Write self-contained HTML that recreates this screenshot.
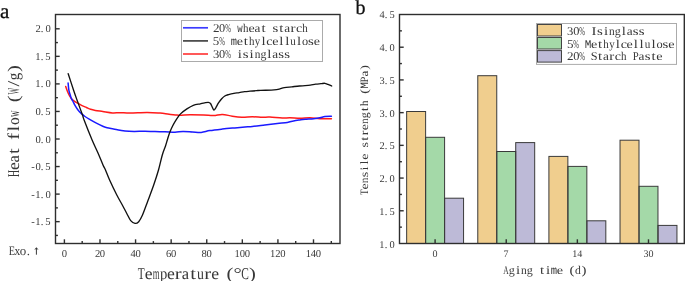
<!DOCTYPE html>
<html><head><meta charset="utf-8"><title>chart</title>
<style>html,body{margin:0;padding:0;background:#fff;width:685px;height:281px;overflow:hidden}svg{display:block;will-change:transform}text{font-kerning:none;text-rendering:geometricPrecision}</style>
</head><body>
<svg width="685" height="281" viewBox="0 0 685 281">
<rect width="685" height="281" fill="#fff"/>
<g><rect x="406.65" y="111.50" width="18.97" height="132.00" fill="#F0CE8E"/><rect x="425.62" y="137.30" width="18.97" height="106.20" fill="#A4D9A8"/><rect x="444.59" y="198.20" width="18.97" height="45.30" fill="#BDBAD7"/><rect x="477.78" y="75.70" width="18.97" height="167.80" fill="#F0CE8E"/><rect x="496.75" y="151.50" width="18.97" height="92.00" fill="#A4D9A8"/><rect x="515.72" y="142.60" width="18.97" height="100.90" fill="#BDBAD7"/><rect x="548.90" y="156.40" width="18.97" height="87.10" fill="#F0CE8E"/><rect x="567.88" y="166.40" width="18.97" height="77.10" fill="#A4D9A8"/><rect x="586.85" y="220.80" width="18.97" height="22.70" fill="#BDBAD7"/><rect x="620.03" y="140.20" width="18.97" height="103.30" fill="#F0CE8E"/><rect x="639.00" y="186.30" width="18.97" height="57.20" fill="#A4D9A8"/><rect x="657.98" y="225.40" width="18.97" height="18.10" fill="#BDBAD7"/></g>
<g fill="none" stroke="#3a3a3a" stroke-width="1"><rect x="406.65" y="111.50" width="18.97" height="132.00"/><rect x="425.62" y="137.30" width="18.97" height="106.20"/><rect x="444.59" y="198.20" width="18.97" height="45.30"/><rect x="477.78" y="75.70" width="18.97" height="167.80"/><rect x="496.75" y="151.50" width="18.97" height="92.00"/><rect x="515.72" y="142.60" width="18.97" height="100.90"/><rect x="548.90" y="156.40" width="18.97" height="87.10"/><rect x="567.88" y="166.40" width="18.97" height="77.10"/><rect x="586.85" y="220.80" width="18.97" height="22.70"/><rect x="620.03" y="140.20" width="18.97" height="103.30"/><rect x="639.00" y="186.30" width="18.97" height="57.20"/><rect x="657.98" y="225.40" width="18.97" height="18.10"/></g>
<g fill="none" stroke-linejoin="round" stroke-linecap="round" stroke-width="1.5">
<path d="M65.70,86.50 C66.00,87.33 66.85,89.92 67.50,91.50 C68.15,93.08 68.90,94.77 69.60,96.00 C70.30,97.23 71.03,98.13 71.70,98.90 C72.37,99.67 72.70,99.95 73.60,100.60 C74.50,101.25 75.70,101.97 77.10,102.80 C78.50,103.63 80.45,104.82 82.00,105.60 C83.55,106.38 84.97,106.88 86.40,107.50 C87.83,108.12 89.12,108.82 90.60,109.30 C92.08,109.78 93.27,110.03 95.30,110.40 C97.33,110.77 99.95,111.08 102.80,111.50 C105.65,111.92 109.53,112.70 112.40,112.90 C115.27,113.10 117.07,112.67 120.00,112.70 C122.93,112.73 125.50,113.12 130.00,113.10 C134.50,113.08 142.00,112.60 147.00,112.60 C152.00,112.60 157.13,112.95 160.00,113.10 C162.87,113.25 161.37,113.17 164.20,113.50 C167.03,113.83 172.70,114.90 177.00,115.10 C181.30,115.30 185.55,114.72 190.00,114.70 C194.45,114.68 199.77,114.85 203.70,115.00 C207.63,115.15 210.50,115.70 213.60,115.60 C216.70,115.50 219.18,114.30 222.30,114.40 C225.42,114.50 229.03,115.73 232.30,116.20 C235.57,116.67 238.55,117.10 241.90,117.20 C245.25,117.30 248.98,116.80 252.40,116.80 C255.82,116.80 259.48,117.15 262.40,117.20 C265.32,117.25 266.58,116.95 269.90,117.10 C273.22,117.25 278.98,118.00 282.30,118.10 C285.62,118.20 286.85,117.67 289.80,117.70 C292.75,117.73 296.63,118.30 300.00,118.30 C303.37,118.30 306.68,117.63 310.00,117.70 C313.32,117.77 316.33,118.53 319.90,118.70 C323.47,118.87 329.48,118.70 331.40,118.70" stroke="#ff1a1a"/>
<path d="M68.10,83.00 C68.23,84.22 68.53,88.27 68.90,90.30 C69.27,92.33 69.90,93.85 70.30,95.20 C70.70,96.55 70.88,97.43 71.30,98.40 C71.72,99.37 72.18,99.83 72.80,101.00 C73.42,102.17 74.17,103.95 75.00,105.40 C75.83,106.85 76.73,108.33 77.80,109.70 C78.87,111.07 80.20,112.47 81.40,113.60 C82.60,114.73 83.70,115.57 85.00,116.50 C86.30,117.43 87.30,118.08 89.20,119.20 C91.10,120.32 94.13,122.03 96.40,123.20 C98.67,124.37 101.02,125.43 102.80,126.20 C104.58,126.97 105.32,127.33 107.10,127.80 C108.88,128.27 111.35,128.58 113.50,129.00 C115.65,129.42 118.08,129.95 120.00,130.30 C121.92,130.65 122.63,130.92 125.00,131.10 C127.37,131.28 130.88,131.38 134.20,131.40 C137.52,131.42 141.43,131.17 144.90,131.20 C148.37,131.23 151.65,131.52 155.00,131.60 C158.35,131.68 161.67,131.60 165.00,131.70 C168.33,131.80 172.00,132.25 175.00,132.20 C178.00,132.15 180.08,131.45 183.00,131.40 C185.92,131.35 189.47,131.73 192.50,131.90 C195.53,132.07 198.30,132.62 201.20,132.40 C204.10,132.18 206.38,131.15 209.90,130.60 C213.42,130.05 218.15,129.55 222.30,129.10 C226.45,128.65 231.02,128.25 234.80,127.90 C238.58,127.55 242.07,127.25 245.00,127.00 C247.93,126.75 249.08,126.75 252.40,126.40 C255.72,126.05 260.75,125.40 264.90,124.90 C269.05,124.40 273.57,123.82 277.30,123.40 C281.03,122.98 284.60,122.82 287.30,122.40 C290.00,121.98 291.38,121.32 293.50,120.90 C295.62,120.48 298.08,120.17 300.00,119.90 C301.92,119.63 302.72,119.50 305.00,119.30 C307.28,119.10 311.22,118.95 313.70,118.70 C316.18,118.45 318.03,118.17 319.90,117.80 C321.77,117.43 322.98,116.77 324.90,116.50 C326.82,116.23 330.32,116.25 331.40,116.20" stroke="#1a1aff"/>
<path d="M68.20,73.70 C69.08,76.42 72.03,85.62 73.50,90.00 C74.97,94.38 75.50,95.83 77.00,100.00 C78.50,104.17 81.32,111.67 82.50,115.00 C83.68,118.33 82.50,115.83 84.10,120.00 C85.70,124.17 89.78,134.50 92.10,140.00 C94.42,145.50 96.18,148.83 98.00,153.00 C99.82,157.17 101.75,162.17 103.00,165.00 C104.25,167.83 104.40,167.50 105.50,170.00 C106.60,172.50 107.72,175.83 109.60,180.00 C111.48,184.17 114.62,190.72 116.80,195.00 C118.98,199.28 121.02,202.58 122.70,205.70 C124.38,208.82 125.57,211.22 126.90,213.70 C128.23,216.18 129.35,218.98 130.70,220.60 C132.05,222.22 133.67,223.22 135.00,223.40 C136.33,223.58 137.45,223.10 138.70,221.70 C139.95,220.30 140.98,218.45 142.50,215.00 C144.02,211.55 145.93,206.00 147.80,201.00 C149.67,196.00 151.92,190.17 153.70,185.00 C155.48,179.83 157.07,175.00 158.50,170.00 C159.93,165.00 161.13,159.00 162.30,155.00 C163.47,151.00 164.62,148.67 165.50,146.00 C166.38,143.33 166.87,141.32 167.60,139.00 C168.33,136.68 169.07,134.27 169.90,132.10 C170.73,129.93 171.62,127.97 172.60,126.00 C173.58,124.03 174.48,122.32 175.80,120.30 C177.12,118.28 178.65,115.80 180.50,113.90 C182.35,112.00 184.77,110.33 186.90,108.90 C189.03,107.47 191.07,106.15 193.30,105.30 C195.53,104.45 198.42,104.20 200.30,103.80 C202.18,103.40 203.27,103.13 204.60,102.90 C205.93,102.67 207.32,102.30 208.30,102.40 C209.28,102.50 209.87,102.78 210.50,103.50 C211.13,104.22 211.53,105.60 212.10,106.70 C212.67,107.80 213.28,109.92 213.90,110.10 C214.52,110.28 215.03,109.00 215.80,107.80 C216.57,106.60 217.52,104.42 218.50,102.90 C219.48,101.38 220.65,99.85 221.70,98.70 C222.75,97.55 223.67,96.68 224.80,96.00 C225.93,95.32 226.98,95.05 228.50,94.60 C230.02,94.15 232.12,93.63 233.90,93.30 C235.68,92.97 237.42,92.87 239.20,92.60 C240.98,92.33 242.80,91.93 244.60,91.70 C246.40,91.47 248.03,91.37 250.00,91.20 C251.97,91.03 254.62,90.85 256.40,90.70 C258.18,90.55 258.20,90.38 260.70,90.30 C263.20,90.22 268.73,90.30 271.40,90.20 C274.07,90.10 275.27,89.92 276.70,89.70 C278.13,89.48 278.72,89.25 280.00,88.90 C281.28,88.55 282.42,87.95 284.40,87.60 C286.38,87.25 289.40,87.07 291.90,86.80 C294.40,86.53 297.22,86.18 299.40,86.00 C301.58,85.82 303.18,85.83 305.00,85.70 C306.82,85.57 308.52,85.45 310.30,85.20 C312.08,84.95 313.92,84.45 315.70,84.20 C317.48,83.95 319.48,83.85 321.00,83.70 C322.52,83.55 323.63,83.18 324.80,83.30 C325.97,83.42 326.85,83.95 328.00,84.40 C329.15,84.85 331.08,85.73 331.70,86.00" stroke="#111" stroke-width="1.35"/>
</g>
<g stroke="#2e2e2e" stroke-width="1.4" fill="none">
<rect x="55.5" y="14.5" width="284.50" height="229.00"/>
<rect x="399.5" y="14.5" width="284.80" height="229.00"/>
<line x1="64.40" y1="243.50" x2="64.40" y2="239.30"/>
<line x1="99.99" y1="243.50" x2="99.99" y2="239.30"/>
<line x1="135.57" y1="243.50" x2="135.57" y2="239.30"/>
<line x1="171.16" y1="243.50" x2="171.16" y2="239.30"/>
<line x1="206.74" y1="243.50" x2="206.74" y2="239.30"/>
<line x1="242.33" y1="243.50" x2="242.33" y2="239.30"/>
<line x1="277.92" y1="243.50" x2="277.92" y2="239.30"/>
<line x1="313.50" y1="243.50" x2="313.50" y2="239.30"/>
<line x1="82.19" y1="243.50" x2="82.19" y2="241.10"/>
<line x1="117.78" y1="243.50" x2="117.78" y2="241.10"/>
<line x1="153.37" y1="243.50" x2="153.37" y2="241.10"/>
<line x1="188.95" y1="243.50" x2="188.95" y2="241.10"/>
<line x1="224.54" y1="243.50" x2="224.54" y2="241.10"/>
<line x1="260.12" y1="243.50" x2="260.12" y2="241.10"/>
<line x1="295.71" y1="243.50" x2="295.71" y2="241.10"/>
<line x1="331.30" y1="243.50" x2="331.30" y2="241.10"/>
<line x1="55.50" y1="221.65" x2="59.70" y2="221.65"/>
<line x1="55.50" y1="194.10" x2="59.70" y2="194.10"/>
<line x1="55.50" y1="166.55" x2="59.70" y2="166.55"/>
<line x1="55.50" y1="139.00" x2="59.70" y2="139.00"/>
<line x1="55.50" y1="111.45" x2="59.70" y2="111.45"/>
<line x1="55.50" y1="83.90" x2="59.70" y2="83.90"/>
<line x1="55.50" y1="56.35" x2="59.70" y2="56.35"/>
<line x1="55.50" y1="28.80" x2="59.70" y2="28.80"/>
<line x1="55.50" y1="235.43" x2="57.90" y2="235.43"/>
<line x1="55.50" y1="207.88" x2="57.90" y2="207.88"/>
<line x1="55.50" y1="180.32" x2="57.90" y2="180.32"/>
<line x1="55.50" y1="152.78" x2="57.90" y2="152.78"/>
<line x1="55.50" y1="125.22" x2="57.90" y2="125.22"/>
<line x1="55.50" y1="97.67" x2="57.90" y2="97.67"/>
<line x1="55.50" y1="70.12" x2="57.90" y2="70.12"/>
<line x1="55.50" y1="42.58" x2="57.90" y2="42.58"/>
<line x1="435.10" y1="243.50" x2="435.10" y2="239.30"/>
<line x1="506.23" y1="243.50" x2="506.23" y2="239.30"/>
<line x1="577.36" y1="243.50" x2="577.36" y2="239.30"/>
<line x1="648.49" y1="243.50" x2="648.49" y2="239.30"/>
<line x1="399.50" y1="210.78" x2="403.70" y2="210.78"/>
<line x1="399.50" y1="178.07" x2="403.70" y2="178.07"/>
<line x1="399.50" y1="145.35" x2="403.70" y2="145.35"/>
<line x1="399.50" y1="112.64" x2="403.70" y2="112.64"/>
<line x1="399.50" y1="79.92" x2="403.70" y2="79.92"/>
<line x1="399.50" y1="47.21" x2="403.70" y2="47.21"/>
<line x1="399.50" y1="227.14" x2="401.90" y2="227.14"/>
<line x1="399.50" y1="194.43" x2="401.90" y2="194.43"/>
<line x1="399.50" y1="161.71" x2="401.90" y2="161.71"/>
<line x1="399.50" y1="129.00" x2="401.90" y2="129.00"/>
<line x1="399.50" y1="96.28" x2="401.90" y2="96.28"/>
<line x1="399.50" y1="63.57" x2="401.90" y2="63.57"/>
<line x1="399.50" y1="30.85" x2="401.90" y2="30.85"/>
</g>
<text x="-0.1" y="18.1" font-family="Liberation Serif" font-size="21" fill="#111" stroke="#111" stroke-width="0.3">a</text>
<text x="355.6" y="13.8" font-family="Liberation Serif" font-size="20" fill="#111" stroke="#111" stroke-width="0.3">b</text>
<g transform="translate(30.60,225.15)" font-family="Liberation Serif" font-size="10.60" fill="#3c3c3c" stroke="#3c3c3c" stroke-width="0.00"><text transform="translate(0.73,0) scale(1.000,1.000)">-</text><text transform="translate(4.70,0) scale(1.000,1.000)">1</text><text transform="translate(10.20,0) scale(1.000,1.000)">.</text><text transform="translate(14.75,0) scale(1.000,1.000)">5</text></g>
<g transform="translate(30.60,197.60)" font-family="Liberation Serif" font-size="10.60" fill="#3c3c3c" stroke="#3c3c3c" stroke-width="0.00"><text transform="translate(0.73,0) scale(1.000,1.000)">-</text><text transform="translate(4.70,0) scale(1.000,1.000)">1</text><text transform="translate(10.20,0) scale(1.000,1.000)">.</text><text transform="translate(14.85,0) scale(1.000,1.000)">0</text></g>
<g transform="translate(30.60,170.05)" font-family="Liberation Serif" font-size="10.60" fill="#3c3c3c" stroke="#3c3c3c" stroke-width="0.00"><text transform="translate(0.73,0) scale(1.000,1.000)">-</text><text transform="translate(4.85,0) scale(1.000,1.000)">0</text><text transform="translate(10.20,0) scale(1.000,1.000)">.</text><text transform="translate(14.75,0) scale(1.000,1.000)">5</text></g>
<g transform="translate(35.60,142.50)" font-family="Liberation Serif" font-size="10.60" fill="#3c3c3c" stroke="#3c3c3c" stroke-width="0.00"><text transform="translate(-0.15,0) scale(1.000,1.000)">0</text><text transform="translate(5.20,0) scale(1.000,1.000)">.</text><text transform="translate(9.85,0) scale(1.000,1.000)">0</text></g>
<g transform="translate(35.60,114.95)" font-family="Liberation Serif" font-size="10.60" fill="#3c3c3c" stroke="#3c3c3c" stroke-width="0.00"><text transform="translate(-0.15,0) scale(1.000,1.000)">0</text><text transform="translate(5.20,0) scale(1.000,1.000)">.</text><text transform="translate(9.75,0) scale(1.000,1.000)">5</text></g>
<g transform="translate(35.60,87.40)" font-family="Liberation Serif" font-size="10.60" fill="#3c3c3c" stroke="#3c3c3c" stroke-width="0.00"><text transform="translate(-0.30,0) scale(1.000,1.000)">1</text><text transform="translate(5.20,0) scale(1.000,1.000)">.</text><text transform="translate(9.85,0) scale(1.000,1.000)">0</text></g>
<g transform="translate(35.60,59.85)" font-family="Liberation Serif" font-size="10.60" fill="#3c3c3c" stroke="#3c3c3c" stroke-width="0.00"><text transform="translate(-0.30,0) scale(1.000,1.000)">1</text><text transform="translate(5.20,0) scale(1.000,1.000)">.</text><text transform="translate(9.75,0) scale(1.000,1.000)">5</text></g>
<g transform="translate(35.60,32.30)" font-family="Liberation Serif" font-size="10.60" fill="#3c3c3c" stroke="#3c3c3c" stroke-width="0.00"><text transform="translate(-0.09,0) scale(1.000,1.000)">2</text><text transform="translate(5.20,0) scale(1.000,1.000)">.</text><text transform="translate(9.85,0) scale(1.000,1.000)">0</text></g>
<g transform="translate(61.90,256.90)" font-family="Liberation Serif" font-size="10.60" fill="#3c3c3c" stroke="#3c3c3c" stroke-width="0.00"><text transform="translate(-0.15,0) scale(1.000,1.000)">0</text></g>
<g transform="translate(94.99,256.90)" font-family="Liberation Serif" font-size="10.60" fill="#3c3c3c" stroke="#3c3c3c" stroke-width="0.00"><text transform="translate(-0.09,0) scale(1.000,1.000)">2</text><text transform="translate(4.85,0) scale(1.000,1.000)">0</text></g>
<g transform="translate(130.57,256.90)" font-family="Liberation Serif" font-size="10.60" fill="#3c3c3c" stroke="#3c3c3c" stroke-width="0.00"><text transform="translate(-0.16,0) scale(0.994,1.000)">4</text><text transform="translate(4.85,0) scale(1.000,1.000)">0</text></g>
<g transform="translate(166.16,256.90)" font-family="Liberation Serif" font-size="10.60" fill="#3c3c3c" stroke="#3c3c3c" stroke-width="0.00"><text transform="translate(-0.22,0) scale(1.000,1.000)">6</text><text transform="translate(4.85,0) scale(1.000,1.000)">0</text></g>
<g transform="translate(201.74,256.90)" font-family="Liberation Serif" font-size="10.60" fill="#3c3c3c" stroke="#3c3c3c" stroke-width="0.00"><text transform="translate(-0.15,0) scale(1.000,1.000)">8</text><text transform="translate(4.85,0) scale(1.000,1.000)">0</text></g>
<g transform="translate(234.83,256.90)" font-family="Liberation Serif" font-size="10.60" fill="#3c3c3c" stroke="#3c3c3c" stroke-width="0.00"><text transform="translate(-0.30,0) scale(1.000,1.000)">1</text><text transform="translate(4.85,0) scale(1.000,1.000)">0</text><text transform="translate(9.85,0) scale(1.000,1.000)">0</text></g>
<g transform="translate(270.42,256.90)" font-family="Liberation Serif" font-size="10.60" fill="#3c3c3c" stroke="#3c3c3c" stroke-width="0.00"><text transform="translate(-0.30,0) scale(1.000,1.000)">1</text><text transform="translate(4.91,0) scale(1.000,1.000)">2</text><text transform="translate(9.85,0) scale(1.000,1.000)">0</text></g>
<g transform="translate(306.00,256.90)" font-family="Liberation Serif" font-size="10.60" fill="#3c3c3c" stroke="#3c3c3c" stroke-width="0.00"><text transform="translate(-0.30,0) scale(1.000,1.000)">1</text><text transform="translate(4.84,0) scale(0.994,1.000)">4</text><text transform="translate(9.85,0) scale(1.000,1.000)">0</text></g>
<g transform="translate(379.60,247.50)" font-family="Liberation Serif" font-size="10.39" fill="#3c3c3c" stroke="#3c3c3c" stroke-width="0.00"><text transform="translate(-0.24,0) scale(1.000,1.000)">1</text><text transform="translate(5.20,0) scale(1.000,1.000)">.</text><text transform="translate(9.90,0) scale(1.000,1.000)">0</text></g>
<g transform="translate(379.60,214.78)" font-family="Liberation Serif" font-size="10.39" fill="#3c3c3c" stroke="#3c3c3c" stroke-width="0.00"><text transform="translate(-0.24,0) scale(1.000,1.000)">1</text><text transform="translate(5.20,0) scale(1.000,1.000)">.</text><text transform="translate(9.80,0) scale(1.000,1.000)">5</text></g>
<g transform="translate(379.60,182.07)" font-family="Liberation Serif" font-size="10.39" fill="#3c3c3c" stroke="#3c3c3c" stroke-width="0.00"><text transform="translate(-0.04,0) scale(1.000,1.000)">2</text><text transform="translate(5.20,0) scale(1.000,1.000)">.</text><text transform="translate(9.90,0) scale(1.000,1.000)">0</text></g>
<g transform="translate(379.60,149.35)" font-family="Liberation Serif" font-size="10.39" fill="#3c3c3c" stroke="#3c3c3c" stroke-width="0.00"><text transform="translate(-0.04,0) scale(1.000,1.000)">2</text><text transform="translate(5.20,0) scale(1.000,1.000)">.</text><text transform="translate(9.80,0) scale(1.000,1.000)">5</text></g>
<g transform="translate(379.60,116.64)" font-family="Liberation Serif" font-size="10.39" fill="#3c3c3c" stroke="#3c3c3c" stroke-width="0.00"><text transform="translate(-0.14,0) scale(1.000,1.000)">3</text><text transform="translate(5.20,0) scale(1.000,1.000)">.</text><text transform="translate(9.90,0) scale(1.000,1.000)">0</text></g>
<g transform="translate(379.60,83.92)" font-family="Liberation Serif" font-size="10.39" fill="#3c3c3c" stroke="#3c3c3c" stroke-width="0.00"><text transform="translate(-0.14,0) scale(1.000,1.000)">3</text><text transform="translate(5.20,0) scale(1.000,1.000)">.</text><text transform="translate(9.80,0) scale(1.000,1.000)">5</text></g>
<g transform="translate(379.60,51.21)" font-family="Liberation Serif" font-size="10.39" fill="#3c3c3c" stroke="#3c3c3c" stroke-width="0.00"><text transform="translate(-0.12,0) scale(1.000,1.000)">4</text><text transform="translate(5.20,0) scale(1.000,1.000)">.</text><text transform="translate(9.90,0) scale(1.000,1.000)">0</text></g>
<g transform="translate(379.60,18.49)" font-family="Liberation Serif" font-size="10.39" fill="#3c3c3c" stroke="#3c3c3c" stroke-width="0.00"><text transform="translate(-0.12,0) scale(1.000,1.000)">4</text><text transform="translate(5.20,0) scale(1.000,1.000)">.</text><text transform="translate(9.80,0) scale(1.000,1.000)">5</text></g>
<g transform="translate(432.60,257.00)" font-family="Liberation Serif" font-size="10.07" fill="#3c3c3c" stroke="#3c3c3c" stroke-width="0.00"><text transform="translate(-0.02,0) scale(1.000,1.000)">0</text></g>
<g transform="translate(503.73,257.00)" font-family="Liberation Serif" font-size="10.07" fill="#3c3c3c" stroke="#3c3c3c" stroke-width="0.00"><text transform="translate(-0.20,0) scale(1.000,1.000)">7</text></g>
<g transform="translate(572.36,257.00)" font-family="Liberation Serif" font-size="10.07" fill="#3c3c3c" stroke="#3c3c3c" stroke-width="0.00"><text transform="translate(-0.16,0) scale(1.000,1.000)">1</text><text transform="translate(4.96,0) scale(1.000,1.000)">4</text></g>
<g transform="translate(643.49,257.00)" font-family="Liberation Serif" font-size="10.07" fill="#3c3c3c" stroke="#3c3c3c" stroke-width="0.00"><text transform="translate(-0.06,0) scale(1.000,1.000)">3</text><text transform="translate(4.98,0) scale(1.000,1.000)">0</text></g>
<g transform="translate(137.60,278.50)" font-family="Liberation Serif" font-size="16.50" fill="#383838" stroke="#383838" stroke-width="0.00"><text transform="translate(0.24,0) scale(0.685,1.000)">T</text><text transform="translate(7.16,0) scale(1.066,1.000)">e</text><text transform="translate(15.06,0) scale(0.532,1.000)">m</text><text transform="translate(22.41,0) scale(0.887,1.000)">p</text><text transform="translate(29.36,0) scale(1.066,1.000)">e</text><text transform="translate(37.15,0) scale(1.250,1.000)">r</text><text transform="translate(44.26,0) scale(0.999,1.000)">a</text><text transform="translate(52.59,0) scale(1.250,1.000)">t</text><text transform="translate(59.46,0) scale(0.840,1.000)">u</text><text transform="translate(66.75,0) scale(1.250,1.000)">r</text><text transform="translate(73.76,0) scale(1.066,1.000)">e</text><text transform="translate(88.95,0) scale(1.250,1.000)">(</text><text transform="translate(95.79,0) scale(1.250,1.000)">°</text><text transform="translate(103.58,0) scale(0.691,1.000)">C</text><text transform="translate(111.39,0) scale(1.250,1.000)">)</text></g>
<g transform="translate(19.30,177.20) rotate(-90)" font-family="Liberation Serif" font-size="16.50" fill="#383838" stroke="#383838" stroke-width="0.00"><text transform="translate(0.16,0) scale(0.601,1.000)">H</text><text transform="translate(7.23,0) scale(1.078,1.000)">e</text><text transform="translate(14.82,0) scale(1.010,1.000)">a</text><text transform="translate(23.27,0) scale(1.250,1.000)">t</text><text transform="translate(37.39,0) scale(1.250,1.000)">f</text><text transform="translate(45.75,0) scale(1.250,1.000)">l</text><text transform="translate(52.22,0) scale(0.941,1.000)">o</text><text transform="translate(60.28,0) scale(0.557,1.000)">w</text><text transform="translate(74.99,0) scale(1.250,1.000)">(</text><text transform="translate(82.72,0) scale(0.424,1.000)">W</text><text transform="translate(90.63,0) scale(1.250,1.000)">/</text><text transform="translate(97.04,0) scale(0.911,1.000)">g</text><text transform="translate(105.15,0) scale(1.250,1.000)">)</text></g>
<g transform="translate(9.00,254.70)" font-family="Liberation Serif" font-size="13.00" fill="#383838" stroke="#383838" stroke-width="0.00"><text transform="translate(-0.24,0) scale(0.793,1.000)">E</text><text transform="translate(5.56,0) scale(0.881,1.000)">x</text><text transform="translate(10.76,0) scale(0.996,1.000)">o</text><text transform="translate(17.80,0) scale(1.000,1.000)">.</text></g>
<path d="M36.4,254.7 V248.5" stroke="#3a3a3a" stroke-width="1.0" fill="none"/><path d="M34.2,249.8 L36.4,247.2 L38.6,249.8 L36.4,249.0 Z" fill="#3a3a3a"/>
<g transform="translate(503.00,274.30)" font-family="Liberation Serif" font-size="11.90" fill="#383838" stroke="#383838" stroke-width="0.00"><text transform="translate(0.29,0) scale(0.629,1.000)">A</text><text transform="translate(5.84,0) scale(1.013,1.000)">g</text><text transform="translate(12.92,0) scale(1.250,1.000)">i</text><text transform="translate(18.10,0) scale(0.961,1.000)">n</text><text transform="translate(23.84,0) scale(1.013,1.000)">g</text><text transform="translate(36.90,0) scale(1.250,1.000)">t</text><text transform="translate(42.92,0) scale(1.250,1.000)">i</text><text transform="translate(47.85,0) scale(0.887,1.000)" font-family="Liberation Mono">m</text><text transform="translate(53.80,0) scale(1.199,1.000)">e</text><text transform="translate(66.44,0) scale(1.250,1.000)">(</text><text transform="translate(71.94,0) scale(0.982,1.000)">d</text><text transform="translate(78.61,0) scale(1.250,1.000)">)</text></g>
<g transform="translate(368.30,195.30) rotate(-90)" font-family="Liberation Serif" font-size="11.30" fill="#383838" stroke="#383838" stroke-width="0.00"><text transform="translate(0.19,0) scale(0.803,1.000)">T</text><text transform="translate(5.74,0) scale(1.250,1.000)">e</text><text transform="translate(11.98,0) scale(1.001,1.000)">n</text><text transform="translate(18.01,0) scale(1.250,1.000)">s</text><text transform="translate(24.75,0) scale(1.250,1.000)">i</text><text transform="translate(30.71,0) scale(1.250,1.000)">l</text><text transform="translate(35.44,0) scale(1.250,1.000)">e</text><text transform="translate(47.71,0) scale(1.250,1.000)">s</text><text transform="translate(54.44,0) scale(1.250,1.000)">t</text><text transform="translate(59.94,0) scale(1.250,1.000)">r</text><text transform="translate(65.14,0) scale(1.250,1.000)">e</text><text transform="translate(71.38,0) scale(1.001,1.000)">n</text><text transform="translate(77.06,0) scale(1.056,1.000)">g</text><text transform="translate(84.14,0) scale(1.250,1.000)">t</text><text transform="translate(89.35,0) scale(0.970,1.000)">h</text><text transform="translate(101.52,0) scale(1.250,1.000)">(</text><text transform="translate(106.58,0) scale(0.977,1.000)" font-family="Liberation Mono">M</text><text transform="translate(112.91,0) scale(0.949,1.000)">P</text><text transform="translate(118.69,0) scale(1.171,1.000)">a</text><text transform="translate(125.44,0) scale(1.250,1.000)">)</text></g>
<line x1="183" y1="27.80" x2="208" y2="27.80" stroke="#3c3cff" stroke-width="1.7"/>
<g transform="translate(213.20,31.90)" font-family="Liberation Serif" font-size="11.90" fill="#383838" stroke="#383838" stroke-width="0.00"><text transform="translate(-0.22,0) scale(1.092,1.000)">2</text><text transform="translate(5.81,0) scale(1.033,1.000)">0</text><text transform="translate(11.96,0) scale(0.573,1.000)">%</text><text transform="translate(23.94,0) scale(0.755,1.000)" font-family="Liberation Mono">w</text><text transform="translate(29.85,0) scale(0.918,1.000)">h</text><text transform="translate(35.33,0) scale(1.183,1.000)">e</text><text transform="translate(41.33,0) scale(1.108,1.000)">a</text><text transform="translate(48.22,0) scale(1.250,1.000)">t</text><text transform="translate(59.23,0) scale(1.250,1.000)">s</text><text transform="translate(65.98,0) scale(1.250,1.000)">t</text><text transform="translate(70.93,0) scale(1.108,1.000)">a</text><text transform="translate(77.36,0) scale(1.250,1.000)">r</text><text transform="translate(82.71,0) scale(1.167,1.000)">c</text><text transform="translate(89.05,0) scale(0.918,1.000)">h</text></g>
<line x1="183" y1="40.90" x2="208" y2="40.90" stroke="#454545" stroke-width="1.7"/>
<g transform="translate(213.20,44.70)" font-family="Liberation Serif" font-size="11.90" fill="#383838" stroke="#383838" stroke-width="0.00"><text transform="translate(-0.40,0) scale(1.087,1.000)">5</text><text transform="translate(6.04,0) scale(0.573,1.000)">%</text><text transform="translate(17.61,0) scale(0.875,1.000)" font-family="Liberation Mono">m</text><text transform="translate(23.49,0) scale(1.183,1.000)">e</text><text transform="translate(30.46,0) scale(1.250,1.000)">t</text><text transform="translate(35.77,0) scale(0.918,1.000)">h</text><text transform="translate(41.66,0) scale(0.905,1.000)">y</text><text transform="translate(48.25,0) scale(1.250,1.000)">l</text><text transform="translate(53.11,0) scale(1.167,1.000)">c</text><text transform="translate(59.01,0) scale(1.183,1.000)">e</text><text transform="translate(66.01,0) scale(1.250,1.000)">l</text><text transform="translate(71.93,0) scale(1.250,1.000)">l</text><text transform="translate(77.17,0) scale(0.932,1.000)">u</text><text transform="translate(83.77,0) scale(1.250,1.000)">l</text><text transform="translate(88.69,0) scale(1.033,1.000)">o</text><text transform="translate(94.75,0) scale(1.250,1.000)">s</text><text transform="translate(100.45,0) scale(1.183,1.000)">e</text></g>
<line x1="183" y1="54.00" x2="208" y2="54.00" stroke="#ff3c3c" stroke-width="1.7"/>
<g transform="translate(213.20,57.70)" font-family="Liberation Serif" font-size="11.90" fill="#383838" stroke="#383838" stroke-width="0.00"><text transform="translate(-0.25,0) scale(1.060,1.000)">3</text><text transform="translate(5.81,0) scale(1.033,1.000)">0</text><text transform="translate(11.96,0) scale(0.573,1.000)">%</text><text transform="translate(24.56,0) scale(1.250,1.000)">i</text><text transform="translate(29.63,0) scale(1.250,1.000)">s</text><text transform="translate(36.40,0) scale(1.250,1.000)">i</text><text transform="translate(41.54,0) scale(0.948,1.000)">n</text><text transform="translate(47.20,0) scale(1.000,1.000)">g</text><text transform="translate(54.17,0) scale(1.250,1.000)">l</text><text transform="translate(59.09,0) scale(1.108,1.000)">a</text><text transform="translate(65.15,0) scale(1.250,1.000)">s</text><text transform="translate(71.07,0) scale(1.250,1.000)">s</text></g>
<rect x="181.5" y="20.5" width="141" height="41" fill="none" stroke="#ababab" stroke-width="1"/>
<rect x="536.5" y="23.5" width="140" height="40.9" fill="none" stroke="#ababab" stroke-width="1"/>
<rect x="537.5" y="24.50" width="24" height="11.5" fill="#F0CE8E" stroke="#444" stroke-width="1"/>
<g transform="translate(567.30,34.70)" font-family="Liberation Serif" font-size="11.90" fill="#383838" stroke="#383838" stroke-width="0.00"><text transform="translate(-0.25,0) scale(1.065,1.000)">3</text><text transform="translate(5.84,0) scale(1.038,1.000)">0</text><text transform="translate(12.02,0) scale(0.575,1.000)">%</text><text transform="translate(24.29,0) scale(1.250,1.000)">I</text><text transform="translate(29.79,0) scale(1.250,1.000)">s</text><text transform="translate(36.59,0) scale(1.250,1.000)">i</text><text transform="translate(41.75,0) scale(0.953,1.000)">n</text><text transform="translate(47.44,0) scale(1.005,1.000)">g</text><text transform="translate(54.46,0) scale(1.250,1.000)">l</text><text transform="translate(59.39,0) scale(1.114,1.000)">a</text><text transform="translate(65.49,0) scale(1.250,1.000)">s</text><text transform="translate(71.44,0) scale(1.250,1.000)">s</text></g>
<rect x="537.5" y="37.50" width="24" height="11.5" fill="#A4D9A8" stroke="#444" stroke-width="1"/>
<g transform="translate(567.30,47.80)" font-family="Liberation Serif" font-size="11.90" fill="#383838" stroke="#383838" stroke-width="0.00"><text transform="translate(-0.40,0) scale(1.092,1.000)">5</text><text transform="translate(6.07,0) scale(0.575,1.000)">%</text><text transform="translate(17.51,0) scale(0.929,1.000)" font-family="Liberation Mono">M</text><text transform="translate(23.60,0) scale(1.189,1.000)">e</text><text transform="translate(30.63,0) scale(1.250,1.000)">t</text><text transform="translate(35.95,0) scale(0.922,1.000)">h</text><text transform="translate(41.87,0) scale(0.909,1.000)">y</text><text transform="translate(48.51,0) scale(1.250,1.000)">l</text><text transform="translate(53.38,0) scale(1.173,1.000)">c</text><text transform="translate(59.30,0) scale(1.189,1.000)">e</text><text transform="translate(66.36,0) scale(1.250,1.000)">l</text><text transform="translate(72.31,0) scale(1.250,1.000)">l</text><text transform="translate(77.56,0) scale(0.937,1.000)">u</text><text transform="translate(84.21,0) scale(1.250,1.000)">l</text><text transform="translate(89.14,0) scale(1.038,1.000)">o</text><text transform="translate(95.24,0) scale(1.250,1.000)">s</text><text transform="translate(100.95,0) scale(1.189,1.000)">e</text></g>
<rect x="537.5" y="50.60" width="24" height="11.5" fill="#BDBAD7" stroke="#444" stroke-width="1"/>
<g transform="translate(567.30,60.00)" font-family="Liberation Serif" font-size="11.90" fill="#383838" stroke="#383838" stroke-width="0.00"><text transform="translate(-0.22,0) scale(1.098,1.000)">2</text><text transform="translate(5.84,0) scale(1.038,1.000)">0</text><text transform="translate(12.02,0) scale(0.575,1.000)">%</text><text transform="translate(23.34,0) scale(1.030,1.000)">S</text><text transform="translate(30.63,0) scale(1.250,1.000)">t</text><text transform="translate(35.59,0) scale(1.114,1.000)">a</text><text transform="translate(42.06,0) scale(1.250,1.000)">r</text><text transform="translate(47.43,0) scale(1.173,1.000)">c</text><text transform="translate(53.80,0) scale(0.922,1.000)">h</text><text transform="translate(65.50,0) scale(0.903,1.000)">P</text><text transform="translate(71.29,0) scale(1.114,1.000)">a</text><text transform="translate(77.39,0) scale(1.250,1.000)">s</text><text transform="translate(84.18,0) scale(1.250,1.000)">t</text><text transform="translate(89.05,0) scale(1.189,1.000)">e</text></g>
</svg>
</body></html>
